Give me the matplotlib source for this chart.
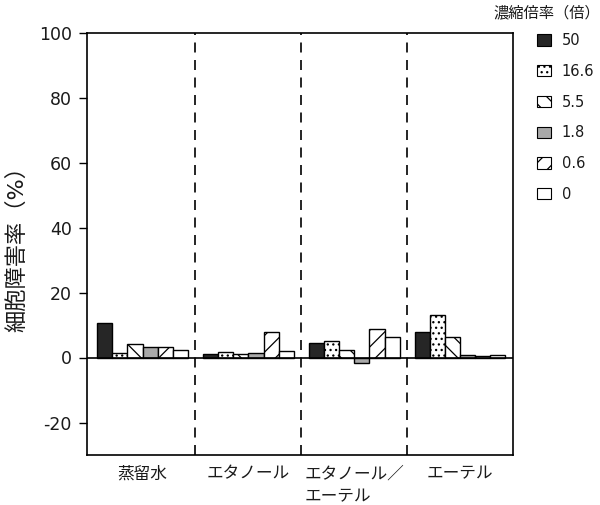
import matplotlib
matplotlib.use("Agg")
import matplotlib.pyplot as plt
import numpy as np
from matplotlib.patches import Patch

plt.rcParams['font.family'] = ['DejaVu Sans', 'Noto Sans CJK JP']
plt.rcParams['hatch.linewidth'] = 0.9

groups = ["蒸留水", "エタノール", "エタノール／\nエーテル", "エーテル"]
series_labels = ["50", "16.6", "5.5", "1.8", "0.6", "0"]
values = {
    "50":   [10.6, 1.2, 4.6, 7.9],
    "16.6": [1.5, 1.6, 5.1, 13.2],
    "5.5":  [4.3, 1.1, 2.3, 6.2],
    "1.8":  [3.3, 1.5, -1.8, 0.9],
    "0.6":  [3.3, 7.7, 8.9, 0.5],
    "0":    [2.2, 1.9, 6.2, 0.9],
}
yticks = [-20, 0, 20, 40, 60, 80, 100]
legend_title = "濃縮倍率（倍）"
ylabel = "細胞障害率（%）"

styles = {
    "50":   dict(facecolor="#262626", hatch=None),
    "16.6": dict(facecolor="white", hatch="..."),
    "5.5":  dict(facecolor="white", hatch="\\\\"),
    "1.8":  dict(facecolor="#a9a9a9", hatch=None),
    "0.6":  dict(facecolor="white", hatch="//"),
    "0":    dict(facecolor="white", hatch=None),
}

fig = plt.figure(figsize=(6.0, 5.05), dpi=100)
ax = fig.add_axes([87/600, 1-455/505, (513-87)/600, (455-32.5)/505])

x = np.arange(len(groups))
w = 0.143
n = len(series_labels)
handles = []
for i, s in enumerate(series_labels):
    off = (i - (n-1)/2) * w
    st = styles[s]
    ax.bar(x + off, values[s], width=w, facecolor=st["facecolor"], hatch=st["hatch"],
           edgecolor="black", linewidth=1.0, zorder=3)
    handles.append(Patch(facecolor=st["facecolor"], hatch=st["hatch"], edgecolor="black",
                         linewidth=0.8, label=s))

ax.set_xlim(-0.525, len(groups)-0.5)
ax.set_ylim(-30, 100)
ax.axhline(0, color="black", linewidth=1.2, zorder=4)
for b in x[:-1] + 0.5:
    ax.axvline(b, color="black", linewidth=1.2, linestyle=(0, (6, 4.5)), zorder=2)

ax.set_yticks(yticks)
ax.set_yticklabels([str(t) for t in yticks], fontsize=12.5, color="#1a1a1a")
ax.tick_params(axis='y', direction='out', length=6, width=1.0, pad=5)
ax.set_xticks(x)
ax.set_xticklabels(groups, fontsize=12, color="#1a1a1a", multialignment='left',
                   verticalalignment='top', linespacing=1.3)
ax.tick_params(axis='x', length=0, pad=7)
for sp in ax.spines.values():
    sp.set_linewidth(1.2)
    sp.set_color("black")

ax.set_ylabel(ylabel, fontsize=16, color="#1a1a1a")
ax.yaxis.set_label_coords(-0.141, 0.5)

fig.text(1.0, 1-13/505, legend_title, ha='right', va='center', fontsize=11,
         color="#1a1a1a")
leg = ax.legend(handles=handles, loc='upper left', bbox_to_anchor=(537/600, 1-33/505),
                bbox_transform=fig.transFigure, frameon=False, fontsize=10.5,
                handlelength=0.95, handleheight=0.8, handletextpad=0.75,
                labelspacing=1.08, borderpad=0, borderaxespad=0)
for t in leg.get_texts():
    t.set_color("#1a1a1a")

fig.savefig("out.png", dpi=100)
